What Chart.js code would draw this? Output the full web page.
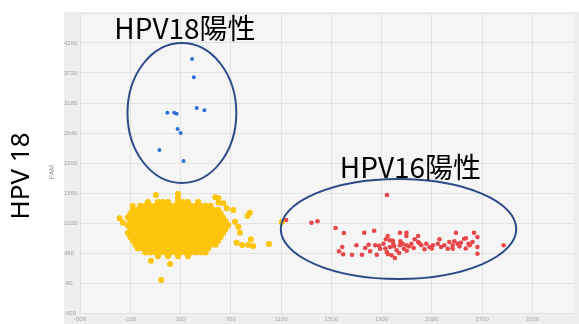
<!DOCTYPE html>
<html>
<head>
<meta charset="utf-8">
<title>HPV droplet plot</title>
<script src="https://cdn.jsdelivr.net/npm/chart.js@4"></script>
<style>
  html, body { margin: 0; padding: 0; background: #fff; overflow: hidden; }
</style>
</head>
<body>
<canvas id="c" width="579" height="324"></canvas>
<script>
// axis ticks (FAM on y, other channel on x)
const xTicks = [-500, -100, 300, 700, 1100, 1500, 1900, 2300, 2700, 3100];
const yTicks = [-600, -60, 480, 1020, 1560, 2100, 2640, 3180, 3720, 4260];
const xMin = -500, xMax = 3430, yMin = -600, yMax = 4800;

// HPV18 positive droplets (blue)
const hpv18X = [392, 406, 195, 250, 269, 429, 490, 277, 301, 132, 324];
const hpv18Y = [3972, 3643, 3005, 3005, 2987, 3090, 3049, 2712, 2640, 2334, 2136];

// HPV16 positive droplets (red)
const hpv16X = [1140, 1342, 1390, 1943, 1534, 1600, 1762, 1841, 1949, 1935, 2046, 2098, 2098, 2191, 2492, 2636,
  2663, 2872, 1561, 1587, 1665, 1744, 1770, 1809, 1849, 1862, 1888, 1915, 1941, 1967, 1980, 2006, 2020, 2046,
  2067, 2077, 2098, 2138, 2156, 2191, 2217, 2242, 2256, 2282, 2309, 2348, 2374, 2400, 2427, 2466, 2479, 2505,
  2531, 2557, 2592, 2602, 2624, 2663, 2663, 2466, 1797, 1967, 1994, 2164, 2361, 2439, 1594, 2571,
  1880, 1930, 2000, 2040, 2120, 1990, 2100, 1950, 2200, 2300, 2520, 2570, 1700, 2050];
const hpv16Y = [1074, 1025, 1051, 1524, 930, 840, 845, 881, 786, 727, 845, 845, 786, 786, 845, 845,
  768, 619, 511, 588, 449, 449, 570, 511, 619, 449, 557, 647, 498, 588, 439, 390, 529, 619,
  647, 557, 619, 647, 570, 678, 619, 547, 647, 588, 619, 647, 588, 619, 557, 619, 691, 647,
  665, 737, 647, 619, 678, 588, 467, 557, 629, 709, 647, 727, 727, 678, 457, 745,
  610, 560, 600, 480, 600, 700, 520, 460, 660, 560, 600, 560, 620, 690];

// negative droplets (yellow): dense cluster, read row by row
const negRowY = [1400, 1330, 1260, 1190, 1120, 1050, 980, 910, 840, 770, 700, 630, 560, 490, 420];
const negRowX = [
  [40, 120, 160, 200, 280, 320, 360, 440],
  [-20, 20, 60, 100, 140, 180, 220, 260, 300, 340, 380, 420, 460, 500, 540],
  [-80, -40, 0, 40, 80, 120, 160, 200, 240, 280, 320, 360, 400, 440, 480, 520, 560, 600],
  [-100, -60, -20, 20, 60, 100, 140, 180, 220, 260, 300, 340, 380, 420, 460, 500, 540, 580, 620],
  [-120, -80, -40, 0, 40, 80, 120, 160, 200, 240, 280, 320, 360, 400, 440, 480, 520, 560, 600, 640],
  [-100, -60, -20, 20, 60, 100, 140, 180, 220, 260, 300, 340, 380, 420, 460, 500, 540, 580, 620, 660],
  [-120, -80, -40, 0, 40, 80, 120, 160, 200, 240, 280, 320, 360, 400, 440, 480, 520, 560, 600, 640, 680],
  [-100, -60, -20, 20, 60, 100, 140, 180, 220, 260, 300, 340, 380, 420, 460, 500, 540, 580, 620, 660],
  [-120, -80, -40, 0, 40, 80, 120, 160, 200, 240, 280, 320, 360, 400, 440, 480, 520, 560, 600, 640],
  [-100, -60, -20, 20, 60, 100, 140, 180, 220, 260, 300, 340, 380, 420, 460, 500, 540, 580, 620],
  [-80, -40, 0, 40, 80, 120, 160, 200, 240, 280, 320, 360, 400, 440, 480, 520, 560, 600],
  [-60, -20, 20, 60, 100, 140, 180, 220, 260, 300, 340, 380, 420, 460, 500, 540, 580],
  [-40, 0, 40, 80, 120, 160, 200, 240, 280, 320, 360, 400, 440, 480, 520],
  [20, 60, 100, 140, 180, 220, 260, 300, 340, 380, 420, 460, 500],
  [120, 200, 280, 360]
];
const negOutX = [104, 280, 280, 576, 602, -80, -185, -159, 852, 833, 773, 746, 791, 839, 878, 860, 1004,
  65, 217, 602, 642, 668, 720, 734, 760, 146, 1106, -67];
const negOutY = [1524, 1542, 1465, 1483, 1465, 1326, 1105, 1025, 1205, 1146, 845, 665, 624, 624, 606, 727, 642,
  341, 282, 1385, 1375, 1285, 1254, 1043, 953, -6, 1038, 1206];

// circled groups, centre and radii in data units
const rings = [
  { cx: 311, cy: 3000, rx: 433, ry: 1260, text: 'HPV18陽性', tx: 335, ty: 4340 },
  { cx: 2035, cy: 912, rx: 937, ry: 900, text: 'HPV16陽性', tx: 2130, ty: 1830 }
];
const yTitle = 'FAM';
const sideTitle = 'HPV 18';

function pts(xs, ys) {
  return xs.map((x, i) => ({ x, y: ys[i] }));
}
const negPts = [];
negRowY.forEach((y, r) => negRowX[r].forEach(x => negPts.push({ x, y })));
pts(negOutX, negOutY).forEach(p => negPts.push(p));

const panel = {
  id: 'panel',
  beforeDraw(chart) {
    const { ctx, chartArea: a, scales } = chart;
    ctx.save();
    ctx.fillStyle = '#eeeeee';
    ctx.fillRect(scales.y.left, a.top - 1, chart.width - scales.y.left, chart.height - a.top + 1);
    ctx.fillStyle = '#f5f5f5';
    ctx.fillRect(a.left, a.top, a.right - a.left, a.bottom - a.top);
    ctx.restore();
  },
  afterDatasetsDraw(chart) {
    const { ctx, scales: { x, y } } = chart;
    ctx.save();
    ctx.strokeStyle = '#2c4a88';
    ctx.lineWidth = 2;
    rings.forEach(r => {
      const px = x.getPixelForValue(r.cx), py = y.getPixelForValue(r.cy);
      const rx = Math.abs(x.getPixelForValue(r.cx + r.rx) - px);
      const ry = Math.abs(y.getPixelForValue(r.cy + r.ry) - py);
      ctx.beginPath();
      ctx.ellipse(px, py, rx, ry, 0, 0, Math.PI * 2);
      ctx.stroke();
    });
    ctx.fillStyle = '#000';
    ctx.font = '28px "Noto Sans CJK JP"';
    ctx.textAlign = 'center';
    ctx.textBaseline = 'alphabetic';
    rings.forEach(r => {
      ctx.fillText(r.text, x.getPixelForValue(r.tx), y.getPixelForValue(r.ty));
    });
    // axis titles at the left
    ctx.save();
    ctx.translate(52, 172);
    ctx.rotate(-Math.PI / 2);
    ctx.fillStyle = '#9a9a9a';
    ctx.font = '7px "Liberation Sans"';
    ctx.textBaseline = 'middle';
    ctx.fillText(yTitle, 0, 0);
    ctx.restore();
    ctx.save();
    ctx.translate(22, 176);
    ctx.rotate(-Math.PI / 2);
    ctx.fillStyle = '#000';
    ctx.font = '26px "Noto Sans"';
    ctx.textBaseline = 'middle';
    ctx.fillText(sideTitle, 0, 0);
    ctx.restore();
    ctx.restore();
  }
};

const tickFont = { family: 'Liberation Sans', size: 6 };

new Chart(document.getElementById('c'), {
  type: 'scatter',
  data: {
    datasets: [
      { label: 'neg', data: negPts, backgroundColor: '#fdc50c', borderColor: '#fdc50c',
        pointRadius: 2.4, pointBorderWidth: 1.2 },
      { label: 'HPV16', data: pts(hpv16X, hpv16Y), backgroundColor: '#e8474a', borderColor: '#e8474a',
        pointRadius: 2.3, pointBorderWidth: 0 },
      { label: 'HPV18', data: pts(hpv18X, hpv18Y), backgroundColor: '#2f6fd8', borderColor: '#2f6fd8',
        pointRadius: 2, pointBorderWidth: 0 }
    ]
  },
  options: {
    responsive: false,
    animation: false,
    devicePixelRatio: 1,
    layout: { padding: { left: 64, top: 13, right: 0, bottom: 0 } },
    plugins: { legend: { display: false }, tooltip: { enabled: false } },
    scales: {
      x: {
        type: 'linear', min: xMin, max: xMax,
        afterBuildTicks: s => { s.ticks = xTicks.map(v => ({ value: v })); },
        afterFit: s => { s.height = 11; },
        grid: { color: '#e2e2e2', drawTicks: false },
        border: { display: false },
        ticks: { font: tickFont, color: '#a3a3a3', padding: 3, maxRotation: 0, autoSkip: false,
          callback: v => String(v) }
      },
      y: {
        type: 'linear', min: yMin, max: yMax,
        afterBuildTicks: s => { s.ticks = yTicks.concat(yMax).map(v => ({ value: v })); },
        afterFit: s => { s.width = 16; },
        grid: { color: '#e2e2e2', drawTicks: false },
        border: { display: false },
        ticks: { font: tickFont, color: '#a3a3a3', padding: 0, crossAlign: 'far', autoSkip: false,
          callback: v => (v === yMax ? '' : String(v)) }
      }
    }
  },
  plugins: [panel]
});
</script>
</body>
</html>
